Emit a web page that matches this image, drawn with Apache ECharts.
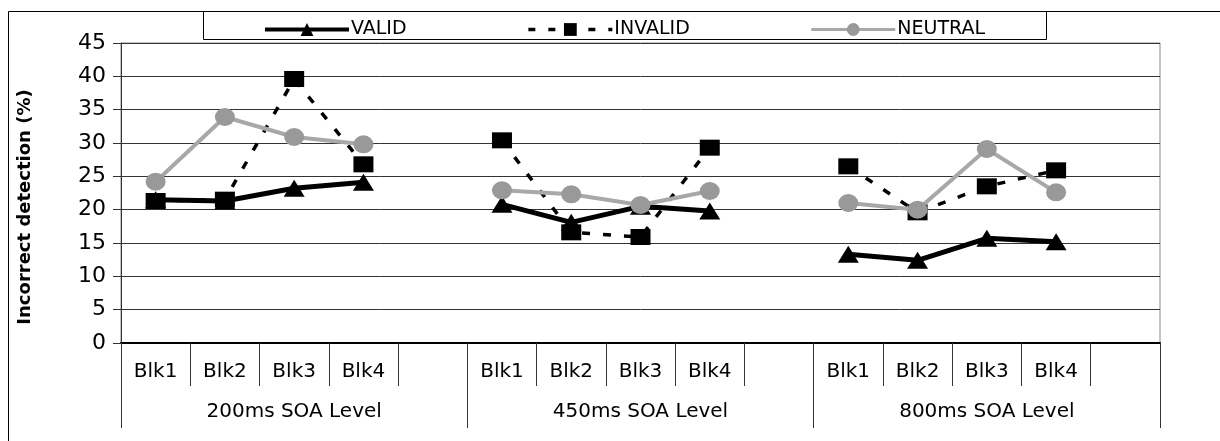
<!DOCTYPE html>
<html>
<head>
<meta charset="utf-8">
<script src="https://cdn.jsdelivr.net/npm/echarts@6/dist/echarts.min.js"></script>
<style>html,body{margin:0;padding:0;background:#fff}#c{width:1220px;height:441px}</style>
</head>
<body>
<div id="c"></div>
<script>
var blocks = ['Blk1','Blk2','Blk3','Blk4',''];
var groups = ['200ms SOA Level','450ms SOA Level','800ms SOA Level'];
var yTicks = {min: 0, max: 45, interval: 5};
var validData   = [21.5, 21.3, 23.2, 24.1, null, 20.8, 18.1, 20.5, 19.8, null, 13.3, 12.4, 15.7, 15.2, null];
var invalidData = [21.3, 21.5, 39.6, 26.8, null, 30.4, 16.6, 15.9, 29.3, null, 26.5, 19.6, 23.5, 25.9, null];
var neutralData = [24.2, 33.9, 30.9, 29.8, null, 22.9, 22.3, 20.7, 22.8, null, 21.0, 20.0, 29.1, 22.6, null];
var seriesNames = ['VALID','INVALID','NEUTRAL'];

var cats = [];
groups.forEach(function(){ blocks.forEach(function(b){ cats.push(b); }); });

var font = 'DejaVu Sans, Liberation Sans, Arial, sans-serif';
var chart = echarts.init(document.getElementById('c'), null, {renderer:'canvas'});
chart.setOption({
  animation: false,
  backgroundColor: '#fff',
  graphic: [
    {type:'rect', shape:{x:8.5,y:11.5,width:1230,height:450}, style:{fill:'none', stroke:'#000', lineWidth:1}, z: 0, silent:true},
    {type:'rect', shape:{x:203.5,y:11.5,width:843,height:28}, style:{fill:'#fff', stroke:'#000', lineWidth:1}, z: 1, silent:true}
  ],
  legend: {
    data: [
      {name: seriesNames[0], lineStyle: {width: 4, color: '#000'}},
      {name: seriesNames[1], lineStyle: {width: 3.5, color: '#000', type: [7, 13]}},
      {name: seriesNames[2], lineStyle: {width: 3, color: '#a8a8a8'}}
    ],
    left: 258, top: 15,
    itemWidth: 84, itemHeight: 16, itemGap: 120,
    textStyle: {fontFamily: font, fontSize: 19, color:'#000', padding:[0,0,0,-3]},
    z: 5
  },
  grid: {left: 121, right: 60, top: 43, bottom: 98, show: true, borderColor: '#888', borderWidth: 1, backgroundColor: 'transparent'},
  xAxis: [
    {
      type: 'category', data: cats, boundaryGap: true, position: 'bottom',
      axisLine: {lineStyle: {color:'#000', width: 2}},
      axisTick: {show: true, interval: 0, length: 43, lineStyle:{color:'#333', width:1}},
      axisLabel: {interval: 0, margin: 19, fontFamily: font, fontSize: 20, color:'#000'},
      splitLine: {show:false}
    },
    {
      type: 'category', data: groups, boundaryGap: true, position: 'bottom',
      axisLine: {show: false},
      axisTick: {show: true, interval: 0, length: 85, lineStyle:{color:'#333', width:1}},
      axisLabel: {interval: 0, margin: 59, fontFamily: font, fontSize: 20, color:'#000'},
      splitLine: {show:false}
    }
  ],
  yAxis: {
    type: 'value', min: yTicks.min, max: yTicks.max, interval: yTicks.interval,
    name: 'Incorrect detection (%)', nameLocation: 'middle', nameGap: 87,
    nameTextStyle: {fontFamily: font, fontSize: 18, fontWeight: 'bold', color:'#000', padding:[0,28,0,0]},
    axisLine: {show: true, lineStyle: {color:'#333', width:1}},
    axisTick: {show: true, length: 8, lineStyle:{color:'#333'}},
    axisLabel: {margin: 15, fontFamily: font, fontSize: 22, color:'#000'},
    splitLine: {show: true, lineStyle: {color:'#333', width: 1}}
  },
  series: [
    {name: 'VALID', type: 'line', xAxisIndex: 0, data: validData, connectNulls: false,
     symbol: 'triangle', symbolSize: [21, 17], itemStyle: {color:'#000'},
     lineStyle: {color:'#000', width: 5}, z: 3},
    {name: 'INVALID', type: 'line', xAxisIndex: 0, data: invalidData, connectNulls: false,
     symbol: 'rect', symbolSize: [20, 16], itemStyle: {color:'#000'},
     lineStyle: {color:'#000', width: 3.5, type: [8, 13]}, z: 4},
    {name: 'NEUTRAL', type: 'line', xAxisIndex: 0, data: neutralData, connectNulls: false,
     symbol: 'circle', symbolSize: [20, 18], itemStyle: {color:'#999'},
     lineStyle: {color:'#a8a8a8', width: 4}, z: 5}
  ]
});
</script>
</body>
</html>
